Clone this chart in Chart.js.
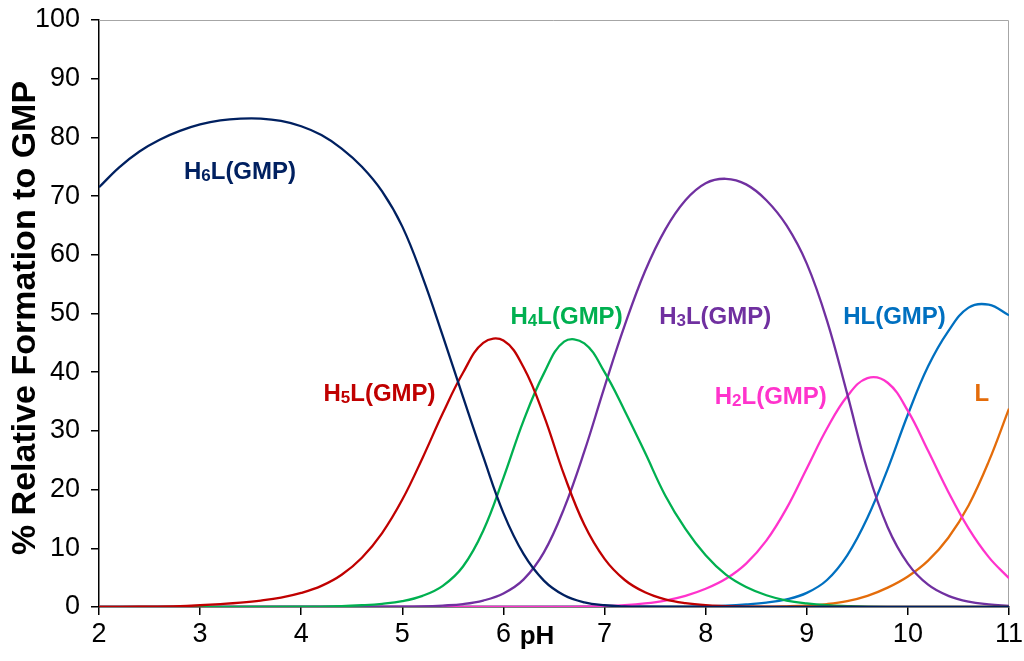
<!DOCTYPE html>
<html><head><meta charset="utf-8">
<script src="https://cdn.jsdelivr.net/npm/chart.js@4"></script>
<style>html,body{margin:0;padding:0;background:#fff;overflow:hidden}canvas{display:block}</style>
</head><body>
<canvas id="c" width="1024" height="661"></canvas>
<script>
// ---- data ----
const xTicks = [2,3,4,5,6,7,8,9,10,11];
const yTicks = [0,10,20,30,40,50,60,70,80,90,100];

const h6lPH  = [2.0,2.2,2.4,2.6,2.8,3.0,3.2,3.4,3.6,3.8,4.0,4.2,4.4,4.6,4.8,5.0,5.2,5.4,5.6,5.8,6.0,6.2,6.4,6.6,6.8,7.0,7.2,7.4,7.8,9,11];
const h6lVal = [71.5,74.9,77.6,79.6,81.1,82.2,82.9,83.2,83.2,82.8,81.9,80.4,78.1,75.0,70.8,64.8,56.2,46.2,35.8,25.6,16.0,9.0,4.5,2.0,0.8,0.3,0.1,0.04,0,0,0];

const h5lPH  = [2.0,2.4,2.8,3.0,3.2,3.4,3.6,3.8,4.0,4.2,4.4,4.6,4.8,5.0,5.2,5.4,5.6,5.8,6.0,6.2,6.4,6.6,6.8,7.0,7.2,7.4,7.6,7.8,8.0,8.2,8.4,8.8,9.5,11];
const h5lVal = [0,0.05,0.15,0.3,0.5,0.75,1.1,1.6,2.4,3.6,5.5,8.4,12.6,18.3,25.4,33.0,39.9,45.0,45.4,40.8,32.6,22.5,14.0,8.2,4.6,2.5,1.3,0.65,0.3,0.15,0.06,0,0,0];

const h4lPH  = [2.0,4.0,4.4,4.6,4.8,5.0,5.2,5.4,5.6,5.8,6.0,6.2,6.4,6.6,6.8,7.0,7.2,7.4,7.6,7.8,8.0,8.2,8.4,8.6,8.8,9.0,9.2,9.4,9.6,10,11];
const h4lVal = [0,0.05,0.15,0.3,0.55,1.0,1.9,3.6,6.9,13.0,22.0,31.8,39.8,45.2,44.9,40.0,33.4,26.3,19.0,13.3,8.8,5.5,3.4,2.0,1.1,0.6,0.3,0.15,0.05,0,0];

const h3lPH  = [2.0,5.0,5.2,5.4,5.6,5.8,6.0,6.2,6.4,6.6,6.8,7.0,7.2,7.4,7.6,7.8,8.0,8.2,8.4,8.6,8.8,9.0,9.2,9.4,9.6,9.8,10.0,10.2,10.4,10.6,10.8,11.0];
const h3lVal = [0,0.05,0.1,0.25,0.5,1.1,2.3,4.7,9.3,16.8,26.5,37.5,48.0,57.2,64.3,69.3,72.2,72.95,72.0,69.3,65.0,58.5,48.8,36.3,23.3,13.6,7.4,3.8,1.9,0.9,0.45,0.2];

const h2lPH  = [2.0,6.6,6.8,7.0,7.2,7.4,7.6,7.8,8.0,8.2,8.4,8.6,8.8,9.0,9.2,9.4,9.6,9.8,10.0,10.2,10.4,10.6,10.8,11.0];
const h2lVal = [0,0.03,0.07,0.15,0.3,0.6,1.1,1.9,3.1,4.8,7.4,11.3,16.8,23.6,30.4,35.9,39.0,38.2,33.4,26.6,19.6,13.4,8.5,4.9];

const hlPH   = [2.0,7.6,8.0,8.2,8.4,8.6,8.8,9.0,9.2,9.4,9.6,9.8,10.0,10.2,10.4,10.6,10.8,11.0];
const hlVal  = [0,0.05,0.15,0.25,0.45,0.75,1.3,2.4,4.6,8.8,15.2,23.5,32.8,41.0,47.0,51.0,51.5,49.7];

const lPH    = [2.0,8.6,8.8,9.0,9.2,9.4,9.6,9.8,10.0,10.2,10.4,10.6,10.8,11.0];
const lVal   = [0,0.05,0.12,0.25,0.5,1.0,1.9,3.3,5.2,7.9,11.8,17.3,24.8,33.8];

const seriesNames  = ['H6L(GMP)','H5L(GMP)','H4L(GMP)','H3L(GMP)','H2L(GMP)','HL(GMP)','L'];
const seriesColors = ['#002060','#C00000','#00B050','#7030A0','#FF33CC','#0070C0','#E46C0A'];
const seriesPH  = [h6lPH,h5lPH,h4lPH,h3lPH,h2lPH,hlPH,lPH];
const seriesVal = [h6lVal,h5lVal,h4lVal,h3lVal,h2lVal,hlVal,lVal];

// label text parts: [main, subscript, rest], anchored (left, middle) at data coords
const labelParts = [['H','6','L(GMP)'],['H','5','L(GMP)'],['H','4','L(GMP)'],['H','3','L(GMP)'],['H','2','L(GMP)'],['HL(GMP)','',''],['L','','']];
const labelPH  = [2.84,4.22,6.07,7.54,8.09,9.36,10.66];
const labelVal = [74.4,36.5,49.7,49.7,36.1,49.7,36.5];

const FONT = '"Liberation Sans", Arial, Helvetica, sans-serif';

const decor = {
  id: 'decor',
  beforeDatasetsDraw(chart) {
    const {ctx, chartArea: a} = chart;
    ctx.save();
    ctx.strokeStyle = '#a6a6a6'; ctx.lineWidth = 1;
    ctx.beginPath();
    ctx.moveTo(a.left, a.top + 0.5);
    ctx.lineTo(a.right - 0.5, a.top + 0.5);
    ctx.lineTo(a.right - 0.5, a.bottom);
    ctx.stroke();
    ctx.restore();
  },
  afterDraw(chart) {
    const {ctx, scales: {x, y}} = chart;
    ctx.save();
    const size = 24;
    labelParts.forEach((p, i) => {
      let px = x.getPixelForValue(labelPH[i]);
      const py = y.getPixelForValue(labelVal[i]) + size * 0.36;
      ctx.fillStyle = seriesColors[i];
      ctx.textBaseline = 'alphabetic'; ctx.textAlign = 'left';
      ctx.font = `bold ${size}px ${FONT}`;
      ctx.fillText(p[0], px, py); px += ctx.measureText(p[0]).width;
      if (p[1]) {
        ctx.font = `bold ${Math.round(size*0.7)}px ${FONT}`;
        ctx.fillText(p[1], px, py + 2); px += ctx.measureText(p[1]).width;
      }
      if (p[2]) {
        ctx.font = `bold ${size}px ${FONT}`;
        ctx.fillText(p[2], px, py);
      }
    });
    // axis titles
    ctx.fillStyle = '#000';
    ctx.font = `bold 26px ${FONT}`;
    ctx.textAlign = 'center'; ctx.textBaseline = 'middle';
    ctx.fillText('pH', 537, 637);
    ctx.translate(26, 318);
    ctx.rotate(-Math.PI/2);
    ctx.font = `bold 34px ${FONT}`;
    ctx.fillText('% Relative Formation to GMP', 0, 0);
    ctx.restore();
  }
};

new Chart(document.getElementById('c'), {
  type: 'line',
  data: {
    datasets: seriesNames.map((n, i) => ({
      label: n,
      data: seriesPH[i].map((v, j) => ({x: v, y: seriesVal[i][j]})),
      borderColor: seriesColors[i],
      backgroundColor: seriesColors[i],
      borderWidth: 2.3,
      pointRadius: 0,
      tension: 0.4,
      fill: false
    }))
  },
  options: {
    responsive: false, animation: false, devicePixelRatio: 1,
    layout: {padding: {top: 20, right: 15, left: 0, bottom: 0}},
    plugins: {legend: {display: false}, tooltip: {enabled: false}},
    scales: {
      x: {
        type: 'linear', min: 2, max: 11,
        afterBuildTicks: s => { s.ticks = xTicks.map(v => ({value: v})); },
        afterFit: s => { s.height = 54; s.paddingLeft = 0; s.paddingRight = 0; },
        grid: {drawOnChartArea: false, drawTicks: true, tickLength: 8, color: '#000', lineWidth: 1.5},
        border: {color: '#000', width: 1.5},
        ticks: {font: {family: FONT, size: 27}, color: '#000', padding: 3, maxRotation: 0, autoSkip: false}
      },
      y: {
        type: 'linear', min: 0, max: 100,
        afterBuildTicks: s => { s.ticks = yTicks.map(v => ({value: v})); },
        afterFit: s => { s.width = 99; s.paddingTop = 0; s.paddingBottom = 0; },
        grid: {drawOnChartArea: false, drawTicks: true, tickLength: 8, color: '#000', lineWidth: 1.5},
        border: {color: '#000', width: 1.5},
        ticks: {font: {family: FONT, size: 27}, color: '#000', padding: 11, autoSkip: false}
      }
    }
  },
  plugins: [decor]
});
</script>
</body></html>
